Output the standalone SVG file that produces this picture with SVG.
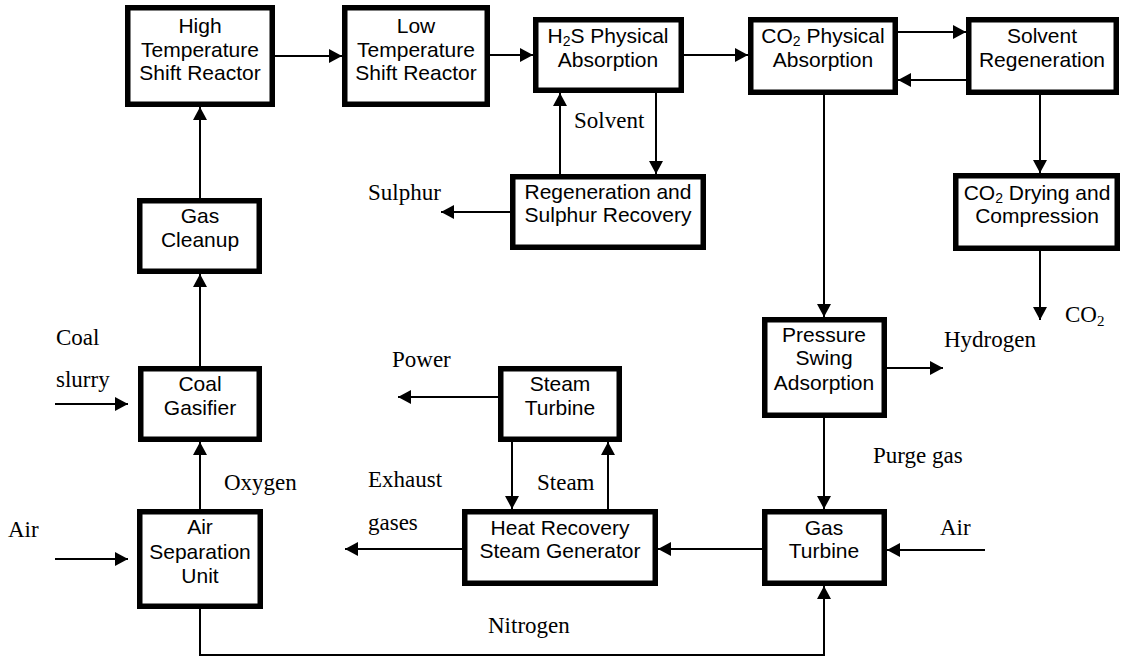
<svg xmlns="http://www.w3.org/2000/svg" width="1122" height="658" viewBox="0 0 1122 658">
  <style>
    .box { fill: #ffffff; stroke: #000000; stroke-width: 5.5; }
    .lbl { font-family: "Liberation Sans", Arial, sans-serif; font-size: 21px; fill: #000000; text-anchor: middle; }
    .flow { font-family: "Liberation Serif", "Times New Roman", serif; font-size: 23px; fill: #000000; }
    .sub { font-size: 14px; }
    .subs { font-size: 15px; }
    .line { fill: none; stroke: #000000; stroke-width: 2; }
    .arr { marker-end: url(#head); }
  </style>
  <defs>
    <marker id="head" markerUnits="userSpaceOnUse" markerWidth="14" markerHeight="14" refX="13" refY="7" orient="auto">
      <path d="M0,0 L13,7 L0,14 Z" fill="#000000"/>
    </marker>
  </defs>

  <rect width="1122" height="658" fill="#ffffff"/>

  <!-- connectors -->
  <g id="connectors">
    <line class="line arr" x1="200" y1="366" x2="200" y2="274"/>
    <line class="line arr" x1="200" y1="198" x2="200" y2="107"/>
    <line class="line arr" x1="275" y1="56" x2="342" y2="56"/>
    <line class="line arr" x1="490" y1="55" x2="533" y2="55"/>
    <line class="line arr" x1="684" y1="55" x2="748" y2="55"/>
    <line class="line arr" x1="898" y1="32" x2="966" y2="32"/>
    <line class="line arr" x1="966" y1="80" x2="898" y2="80"/>
    <line class="line arr" x1="1040" y1="95" x2="1040" y2="173"/>
    <line class="line arr" x1="1040" y1="251" x2="1040" y2="320"/>
    <line class="line arr" x1="824" y1="95" x2="824" y2="317"/>
    <line class="line arr" x1="887" y1="368" x2="943" y2="368"/>
    <line class="line arr" x1="824" y1="418" x2="824" y2="509"/>
    <line class="line arr" x1="985" y1="550" x2="887" y2="550"/>
    <line class="line arr" x1="762" y1="549" x2="658" y2="549"/>
    <line class="line arr" x1="462" y1="549" x2="345" y2="549"/>
    <line class="line arr" x1="608" y1="509" x2="608" y2="442"/>
    <line class="line arr" x1="512" y1="442" x2="512" y2="509"/>
    <line class="line arr" x1="498" y1="397" x2="398" y2="397"/>
    <line class="line arr" x1="200" y1="509" x2="200" y2="442"/>
    <line class="line arr" x1="55" y1="559" x2="128" y2="559"/>
    <line class="line arr" x1="55" y1="404" x2="128" y2="404"/>
    <path class="line arr" d="M200,609 V655 H824 V586"/>
    <line class="line arr" x1="656" y1="93" x2="656" y2="174"/>
    <line class="line arr" x1="560" y1="174" x2="560" y2="93"/>
    <line class="line arr" x1="510" y1="212" x2="441" y2="212"/>
  </g>

  <!-- process units -->
  <g id="ht-shift">
    <rect class="box" x="127.75" y="7.75" width="144.5" height="96.5"/>
    <text class="lbl" x="200" y="33">High</text>
    <text class="lbl" x="200" y="57">Temperature</text>
    <text class="lbl" x="200" y="80">Shift Reactor</text>
  </g>
  <g id="lt-shift">
    <rect class="box" x="344.75" y="7.75" width="142.5" height="96.5"/>
    <text class="lbl" x="416" y="33">Low</text>
    <text class="lbl" x="416" y="57">Temperature</text>
    <text class="lbl" x="416" y="80">Shift Reactor</text>
  </g>
  <g id="h2s-absorption">
    <rect class="box" x="535.75" y="19.75" width="145.5" height="70.5"/>
    <text class="lbl" x="608" y="43">H<tspan class="sub" dy="3">2</tspan><tspan dy="-3">S Physical</tspan></text>
    <text class="lbl" x="608" y="67">Absorption</text>
  </g>
  <g id="co2-absorption">
    <rect class="box" x="750.75" y="19.75" width="144.5" height="72.5"/>
    <text class="lbl" x="823" y="43">CO<tspan class="sub" dy="3">2</tspan><tspan dy="-3"> Physical</tspan></text>
    <text class="lbl" x="823" y="67">Absorption</text>
  </g>
  <g id="solvent-regeneration">
    <rect class="box" x="968.75" y="19.75" width="147.5" height="72.5"/>
    <text class="lbl" x="1042" y="43">Solvent</text>
    <text class="lbl" x="1042" y="67">Regeneration</text>
  </g>
  <g id="co2-compression">
    <rect class="box" x="955.75" y="175.75" width="161.5" height="72.5"/>
    <text class="lbl" x="1037" y="200">CO<tspan class="sub" dy="3">2</tspan><tspan dy="-3"> Drying and</tspan></text>
    <text class="lbl" x="1037" y="223">Compression</text>
  </g>
  <g id="sulphur-recovery">
    <rect class="box" x="512.75" y="176.75" width="190.5" height="70.5"/>
    <text class="lbl" x="608" y="199">Regeneration and</text>
    <text class="lbl" x="608" y="222">Sulphur Recovery</text>
  </g>
  <g id="gas-cleanup">
    <rect class="box" x="139.75" y="200.75" width="119.5" height="70.5"/>
    <text class="lbl" x="200" y="223">Gas</text>
    <text class="lbl" x="200" y="247">Cleanup</text>
  </g>
  <g id="coal-gasifier">
    <rect class="box" x="140.75" y="368.75" width="118.5" height="70.5"/>
    <text class="lbl" x="200" y="391">Coal</text>
    <text class="lbl" x="200" y="415">Gasifier</text>
  </g>
  <g id="air-separation">
    <rect class="box" x="139.75" y="511.75" width="120.5" height="94.5"/>
    <text class="lbl" x="200" y="534">Air</text>
    <text class="lbl" x="200" y="559">Separation</text>
    <text class="lbl" x="200" y="583">Unit</text>
  </g>
  <g id="steam-turbine">
    <rect class="box" x="500.75" y="368.75" width="118.5" height="70.5"/>
    <text class="lbl" x="560" y="391">Steam</text>
    <text class="lbl" x="560" y="415">Turbine</text>
  </g>
  <g id="hrsg">
    <rect class="box" x="464.75" y="511.75" width="190.5" height="71.5"/>
    <text class="lbl" x="560" y="535">Heat Recovery</text>
    <text class="lbl" x="560" y="558">Steam Generator</text>
  </g>
  <g id="psa">
    <rect class="box" x="764.75" y="319.75" width="119.5" height="95.5"/>
    <text class="lbl" x="824" y="342">Pressure</text>
    <text class="lbl" x="824" y="365">Swing</text>
    <text class="lbl" x="824" y="390">Adsorption</text>
  </g>
  <g id="gas-turbine">
    <rect class="box" x="764.75" y="511.75" width="119.5" height="71.5"/>
    <text class="lbl" x="824" y="535">Gas</text>
    <text class="lbl" x="824" y="558">Turbine</text>
  </g>

  <!-- stream labels -->
  <g id="stream-labels">
    <text class="flow" x="56" y="345">Coal</text>
    <text class="flow" x="56" y="387">slurry</text>
    <text class="flow" x="8" y="537">Air</text>
    <text class="flow" x="224" y="490">Oxygen</text>
    <text class="flow" x="368" y="487">Exhaust</text>
    <text class="flow" x="368" y="530">gases</text>
    <text class="flow" x="537" y="490">Steam</text>
    <text class="flow" x="392" y="367">Power</text>
    <text class="flow" x="488" y="633">Nitrogen</text>
    <text class="flow" x="873" y="463">Purge gas</text>
    <text class="flow" x="944" y="347">Hydrogen</text>
    <text class="flow" x="940" y="535">Air</text>
    <text class="flow" x="1065" y="322">CO<tspan class="subs" dy="4">2</tspan></text>
    <text class="flow" x="574" y="128">Solvent</text>
    <text class="flow" x="368" y="200">Sulphur</text>
  </g>
</svg>
